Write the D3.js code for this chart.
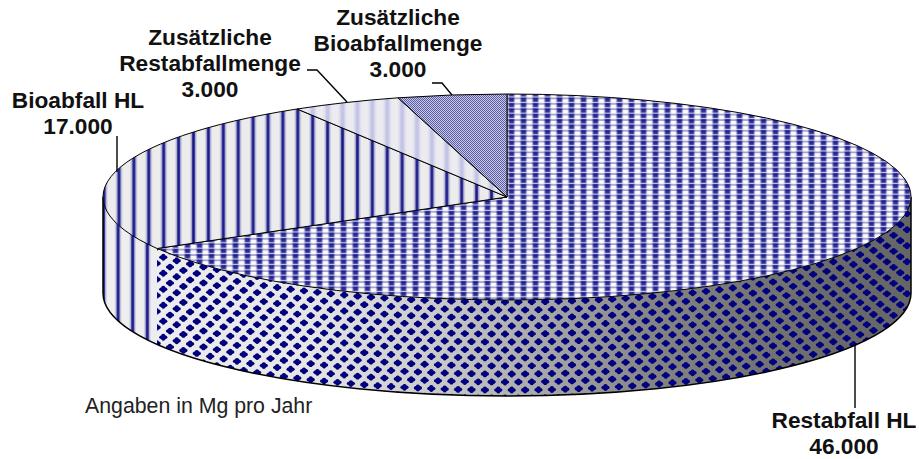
<!DOCTYPE html>
<html>
<head>
<meta charset="utf-8">
<script src="https://cdnjs.cloudflare.com/ajax/libs/d3/7.8.5/d3.min.js"></script>
<style>html,body{margin:0;background:#fff}svg{display:block}</style>
</head>
<body>
<script>
// Data
const categories = ["Restabfall HL", "Bioabfall HL", "Zusätzliche Restabfallmenge", "Zusätzliche Bioabfallmenge"];
const values = [46000, 17000, 3000, 3000];
const valueLabels = ["46.000", "17.000", "3.000", "3.000"];
const note = "Angaben in Mg pro Jahr";

// Layout
const W = 919, H = 459;
const cx = 507, cy = 197, rx = 404, ry = 103, depth = 96;
const fontBold = "'Liberation Sans', Arial, sans-serif";
const labelLines = [
  ["Restabfall HL"], ["Bioabfall HL"], ["Zusätzliche", "Restabfallmenge"], ["Zusätzliche", "Bioabfallmenge"]
];
const labelPos = [
  {x: 844, y: 428}, {x: 78, y: 108}, {x: 210, y: 45}, {x: 398, y: 25}
];
const leaders = [
  [[855, 345], [855, 408]],
  [[117, 136], [117, 172]],
  [[307, 70], [317, 70], [347, 102]],
  [[432, 83], [442, 83], [452, 95]]
];

const svg = d3.select("body").append("svg").attr("width", W).attr("height", H)
  .attr("viewBox", [0, 0, W, H]);
const defs = svg.append("defs");

const sx = d3.scaleLinear().domain([-1, 1]).range([cx - rx, cx + rx]);
const sy = d3.scaleLinear().domain([-1, 1]).range([cy - ry, cy + ry]);
const pie = d3.pie().sort(null).value(d => d)(values);
const px = a => sx(Math.sin(a));
const py = a => sy(-Math.cos(a));
const arcPath = (a0, a1, dy = 0, sweep = 1) => {
  const n = Math.ceil(Math.abs(a1 - a0) / (Math.PI / 2));
  let s = "";
  for (let i = 1; i <= n; i++) {
    const a = a0 + (a1 - a0) * i / n;
    s += `A${rx},${ry} 0 0 ${sweep} ${px(a)},${py(a) + dy}`;
  }
  return s;
};

// --- Patterns
function stripePattern(id, period, bg, col, core, halo, tx) {
  const p = defs.append("pattern").attr("id", id).attr("patternUnits", "userSpaceOnUse")
    .attr("width", period).attr("height", 6).attr("patternTransform", `translate(${tx},0)`);
  if (bg) p.append("rect").attr("width", period).attr("height", 6).attr("fill", bg);
  const m = period / 2;
  p.append("rect").attr("x", m - core / 2 - halo).attr("width", core + 2 * halo).attr("height", 6).attr("fill", col).attr("opacity", 0.28);
  p.append("rect").attr("x", m - core / 2).attr("width", core).attr("height", 6).attr("fill", col).attr("opacity", 0.85);
}
stripePattern("bioTop", 14.9, "#ececec", "#000080", 2.6, 1.6, 7.25);
stripePattern("bioSide", 14.6, null, "#000080", 2.6, 1.5, -6);
stripePattern("addRest", 14.9, "#ebebf0", "#c0c0e6", 4, 2, 7.25);

const tw = 12, th = 5.4;
const rt = defs.append("pattern").attr("id", "restTop").attr("patternUnits", "userSpaceOnUse")
  .attr("width", tw).attr("height", th).attr("patternTransform", "translate(1.5,0.25)");
rt.append("rect").attr("width", tw).attr("height", th).attr("fill", "#fafafc");
rt.append("rect").attr("x", 2.6).attr("width", 6.8).attr("height", th).attr("fill", "#000080").attr("opacity", 0.18);
rt.append("rect").attr("y", 0.4).attr("width", tw).attr("height", 1.1).attr("fill", "#000080").attr("opacity", 0.55);
rt.append("rect").attr("x", 3.4).attr("y", 0.2).attr("width", 5.2).attr("height", 4.1).attr("fill", "#000080").attr("opacity", 0.78);

const ck = defs.append("pattern").attr("id", "addBio").attr("patternUnits", "userSpaceOnUse")
  .attr("width", 2).attr("height", 2);
ck.append("rect").attr("width", 2).attr("height", 2).attr("fill", "#c9cae2");
ck.append("rect").attr("width", 1).attr("height", 1).attr("fill", "#5a5ea8");
ck.append("rect").attr("x", 1).attr("y", 1).attr("width", 1).attr("height", 1).attr("fill", "#5a5ea8");

const shade = defs.append("linearGradient").attr("id", "sideShade").attr("gradientUnits", "userSpaceOnUse")
  .attr("x1", cx - rx).attr("x2", cx + rx).attr("y1", 0).attr("y2", 0);
[[0, "#f0f0f0"], [0.25, "#e6e6e6"], [0.42, "#c8c8c8"], [0.68, "#848484"], [0.9, "#6a6a6a"], [1, "#666"]]
  .forEach(([o, c]) => shade.append("stop").attr("offset", o).attr("stop-color", c));

// --- Side wall
const front = d3.pairs([Math.PI / 2, pie[0].endAngle, 3 * Math.PI / 2]);
const sidePath = ([a0, a1]) =>
  `M${px(a0)},${py(a0)}` + arcPath(a0, a1) + `L${px(a1)},${py(a1) + depth}` + arcPath(a1, a0, depth, 0) + "Z";
const gSide = svg.append("g");
gSide.selectAll("path.base").data(front).join("path").attr("class", "base")
  .attr("d", sidePath).attr("fill", "url(#sideShade)");
gSide.append("path").attr("d", sidePath(front[1])).attr("fill", "url(#bioSide)");

// dotted texture of the Restabfall wall follows the curved rim, softened at the ends
defs.append("clipPath").attr("id", "restWall").append("path").attr("d", sidePath(front[0]));
const rimY = x => cy + ry * Math.sqrt(1 - (0.9 * (x - cx) / rx) ** 2);
const dotX = d3.range(cx - rx, cx + rx, 6.7);
const dotRows = d3.range(-6, 16);
const rowPitch = 8;
const dots = dotX.flatMap((x, c) => dotRows.filter(r => ((r + c) % 2 + 2) % 2 === 0).map(r => ({x, y: rimY(x) + 2 + r * rowPitch})));
const gDots = gSide.append("g").attr("clip-path", "url(#restWall)").attr("fill", "#000080");
gDots.selectAll("ellipse.h").data(dots).join("ellipse").attr("class", "h")
  .attr("cx", d => d.x).attr("cy", d => d.y).attr("rx", 4.1).attr("ry", 2.1);
gDots.selectAll("ellipse.v").data(dots).join("ellipse").attr("class", "v")
  .attr("cx", d => d.x).attr("cy", d => d.y).attr("rx", 2.3).attr("ry", 3.4);

// outline of the lower rim
svg.append("path").attr("fill", "none").attr("stroke", "#000").attr("stroke-width", 1.5)
  .attr("d", `M${px(Math.PI / 2)},${py(Math.PI / 2)}L${px(Math.PI / 2)},${py(Math.PI / 2) + depth}`
    + arcPath(Math.PI / 2, 3 * Math.PI / 2, depth) + `L${px(3 * Math.PI / 2)},${py(3 * Math.PI / 2)}`);

// --- Top slices
const topFills = ["url(#restTop)", "url(#bioTop)", "url(#addRest)", "url(#addBio)"];
svg.append("g").selectAll("path").data(pie).join("path")
  .attr("d", d => `M${cx},${cy}L${px(d.startAngle)},${py(d.startAngle)}` + arcPath(d.startAngle, d.endAngle) + "Z")
  .attr("fill", (d, i) => topFills[i])
  .attr("stroke", "#000").attr("stroke-width", 1).attr("stroke-linejoin", "round");

// --- Leaders
const line = d3.line();
svg.append("g").selectAll("path").data(leaders).join("path")
  .attr("d", line).attr("fill", "none").attr("stroke", "#000").attr("stroke-width", 1.4);

// --- Labels
const gl = svg.append("g").attr("font-family", fontBold).attr("font-weight", "bold")
  .attr("font-size", 22.7).attr("fill", "#111").attr("text-anchor", "middle");
categories.forEach((c, i) => {
  const lines = labelLines[i].concat(valueLabels[i]);
  const t = gl.append("text");
  t.selectAll("tspan").data(lines).join("tspan")
    .attr("x", labelPos[i].x).attr("y", (d, k) => labelPos[i].y + k * 26).text(d => d);
});
svg.append("text").attr("x", 85).attr("y", 413).attr("font-family", fontBold)
  .attr("font-size", 21.3).attr("fill", "#222").text(note);
</script>
</body>
</html>
